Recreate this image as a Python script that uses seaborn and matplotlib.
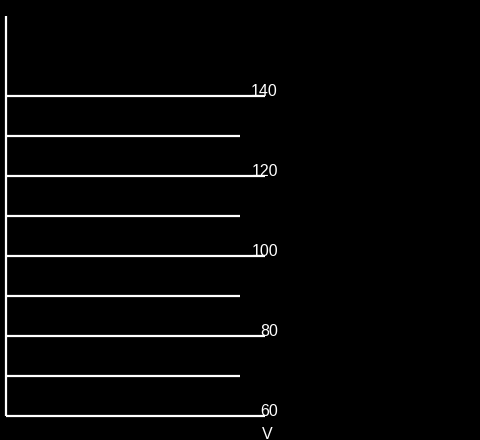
import matplotlib
matplotlib.use("Agg")
import matplotlib.pyplot as plt
import seaborn as sns

# шкала напряжения
major_ticks = [60, 80, 100, 120, 140]
minor_ticks = [70, 90, 110, 130]
tick_labels = ["60", "80", "100", "120", "140"]
scale_min = 60
scale_max = 160
unit_label = "V"

sns.set_style("dark")
plt.rcParams['font.family'] = ['Liberation Sans', 'DejaVu Sans']

fig = plt.figure(figsize=(4.81, 4.40), dpi=100, facecolor="black")
ax = fig.add_axes([0, 0, 1, 1])
ax.set_facecolor("black")
ax.set_xlim(0, 481)
ax.set_ylim(54, 164)
ax.axis("off")

# вертикальная ось
ax.vlines(6, scale_min, scale_max, color="white", linewidth=1.6)

# деления
ax.hlines(major_ticks, 6, 265, color="white", linewidth=1.6)
ax.hlines(minor_ticks, 6, 240, color="white", linewidth=1.6)

for v, lab in zip(major_ticks, tick_labels):
    ax.text(278, v + 1.25, lab, color="white", fontsize=11.5, ha="right", va="center")

ax.text(267, 55.5, unit_label, color="white", fontsize=11.5, ha="center", va="center")

fig.savefig("out.png", dpi=100, facecolor="black")
